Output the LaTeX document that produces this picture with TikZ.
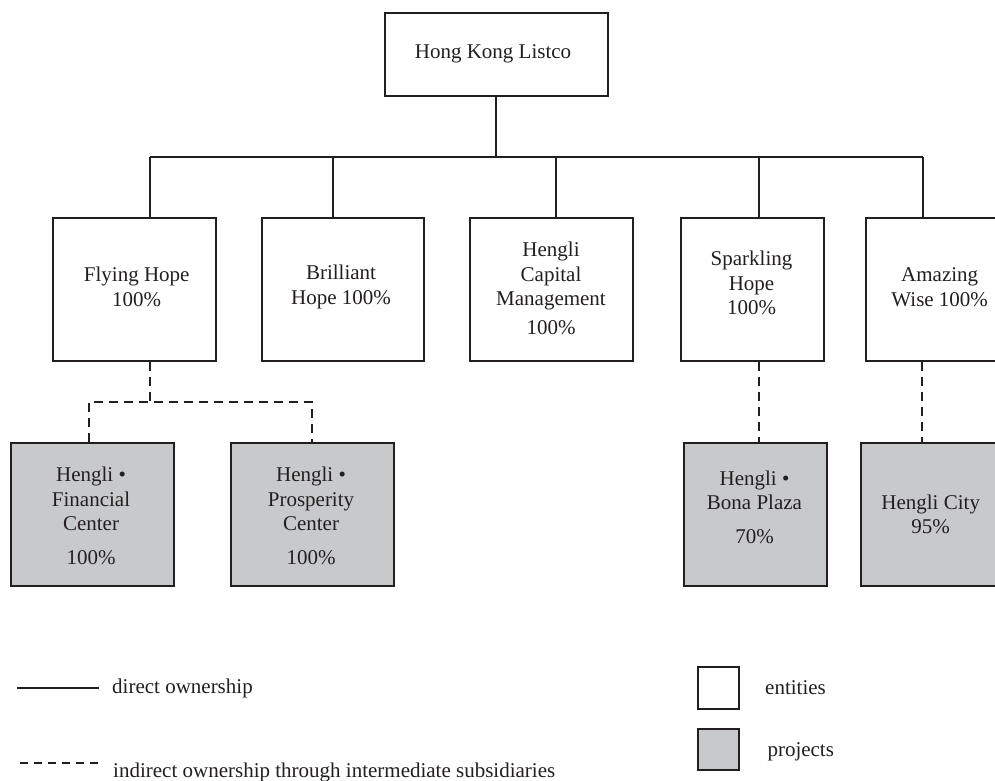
\documentclass[tikz,border=0pt]{standalone}
\usepackage{fontspec}
\setmainfont{Liberation Serif}
\definecolor{ink}{HTML}{231F20}
\definecolor{proj}{HTML}{C8C9CB}
\begin{document}
\begin{tikzpicture}[x=1pt,y=-1pt,
  entity/.style={draw=ink,line width=2.2pt,fill=white,inner sep=0pt,minimum width=#1},
  entity/.default=162.7pt,
  project/.style={draw=ink,line width=2.2pt,fill=proj,inner sep=0pt,minimum height=143pt,minimum width=#1},
  project/.default=163pt,
  lbl/.style={font=\fontsize{21}{24.6}\selectfont,text=ink,align=center,inner sep=0pt},
  legtext/.style={font=\fontsize{21}{24.6}\selectfont,text=ink,anchor=west,inner sep=0pt},
  conn/.style={draw=ink,line width=1.8pt},
  dconn/.style={draw=ink,line width=1.8pt,dash pattern=on 9pt off 6pt}]
\useasboundingbox[fill=white] (0,0) rectangle (995,780);

% top
\node[entity=223.6pt,minimum height=82.4pt] (hk) at (496.5,54.5) {};
\node[lbl] (hk-t) at (493,54) {Hong Kong Listco};

% second row boxes
\node[entity,minimum height=142.4pt] (fh) at (134.65,289.5) {};
\node[entity=162.3pt,minimum height=142.4pt] (bh) at (342.85,289.5) {};
\node[entity,minimum height=142.4pt] (hcm) at (551.35,289.5) {};
\node[entity=142.7pt,minimum height=142.4pt] (sh) at (752.65,289.5) {};
\node[entity=148pt,minimum height=142.4pt] (aw) at (939.7,289.5) {};

\node[lbl] (fh-t) at (136.7,287) {Flying Hope\\100\%};
\node[lbl] (bh-t) at (341,287) {Brilliant\\Hope 100\%};
\node[lbl] (hcm-t) at (551,288.5) {Hengli\\Capital\\Management\\[4.5pt]100\%};
\node[lbl] (sh-t) at (751.5,283) {Sparkling\\Hope\\100\%};
\node[lbl] (aw-t) at (939.7,287) {Amazing\\Wise 100\%};

% projects
\node[project] (fc) at (92.2,514.2) {};
\node[project] (pc) at (312.5,514.2) {};
\node[project=143.3pt] (bp) at (755.65,514.2) {};
\node[project=140pt] (hc) at (930.7,514.2) {};

\node[lbl] (fc-t) at (91,516) {Hengli •\\Financial\\Center\\[9pt]100\%};
\node[lbl] (pc-t) at (311,516) {Hengli •\\Prosperity\\Center\\[9pt]100\%};
\node[lbl] (bp-t) at (754.5,507) {Hengli •\\Bona Plaza\\[9pt]70\%};
\node[lbl] (hc-t) at (930.7,514.5) {Hengli City\\95\%};

% bus coordinates
\coordinate (jhk) at (496,156.7);
\coordinate (jfh) at (150,156.7);
\coordinate (jbh) at (332.7,156.7);
\coordinate (jhcm) at (556,156.7);
\coordinate (jsh) at (759.3,156.7);
\coordinate (jaw) at (922.7,156.7);

\draw[conn] (jhk |- hk.south) -- (jhk);
\draw[conn] (jfh) -- (jaw);
\draw[conn] (jfh) -- (jfh |- fh.north);
\draw[conn] (jbh) -- (jbh |- bh.north);
\draw[conn] (jhcm) -- (jhcm |- hcm.north);
\draw[conn] (jsh) -- (jsh |- sh.north);
\draw[conn] (jaw) -- (jaw |- aw.north);

% dashed
\coordinate (dfh) at (150,401.7);
\coordinate (dl) at (89,401.7);
\coordinate (dr) at (312.3,401.7);
\draw[dconn] (dfh |- fh.south) -- (dfh);
\draw[dconn] (dl |- fc.north) -- (dl) -- (dr) -- (dr |- pc.north);
\coordinate (dsh) at (759.3,0);
\coordinate (daw) at (922.2,0);
\draw[dconn] (dsh |- sh.south) -- (dsh |- bp.north);
\draw[dconn] (daw |- aw.south) -- (daw |- hc.north);

% legend
\coordinate (ls1) at (17,687.7);
\coordinate (ls2) at (99,687.7);
\draw[conn] (ls1) -- (ls2);
\node[legtext] (ls-t) at (112,688) {direct ownership};
\coordinate (ld1) at (20,762.7);
\coordinate (ld2) at (98,762.7);
\draw[draw=ink,line width=1.8pt,dash pattern=on 8pt off 6pt] (ld1) -- (ld2);
\node[legtext] (ld-t) at (113,772) {indirect ownership through intermediate subsidiaries};

\node[entity=41.6pt,minimum height=41.4pt] (le) at (718.5,688) {};
\node[legtext] (le-t) at (765,687.7) {entities};
\node[project=41.6pt,minimum height=41.6pt] (lp) at (718.5,749.5) {};
\node[legtext] (lp-t) at (767.3,751.7) {projects};
\end{tikzpicture}
\end{document}
